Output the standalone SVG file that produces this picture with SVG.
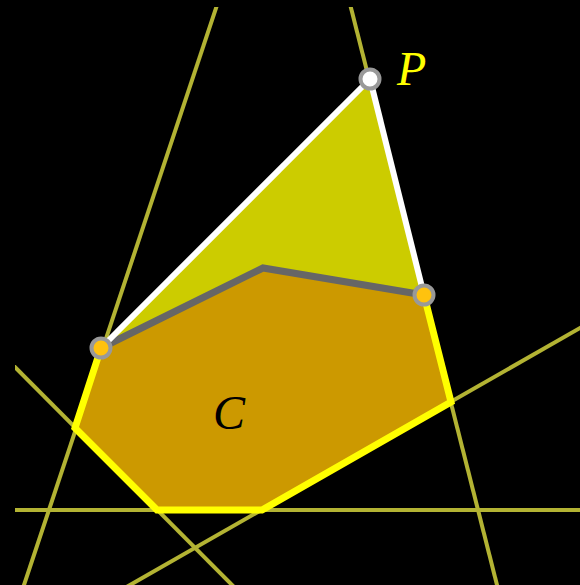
<svg xmlns="http://www.w3.org/2000/svg" width="580" height="585" viewBox="0 0 580 585">
<defs>
<clipPath id="clip"><rect x="15" y="7" width="565" height="578"/></clipPath>
<style>
.ln{stroke:#b3b333;stroke-width:4;fill:none}
.pt{stroke:#999999;stroke-width:4}
.lbl{font-family:"Liberation Serif","DejaVu Serif",serif;font-style:italic;font-size:48px}
</style>
</defs>
<rect x="0" y="0" width="580" height="585" fill="#000000"/>
<g id="connectors" clip-path="url(#clip)">
<line class="ln" x1="218.7" y1="0" x2="19" y2="600"/>
<line class="ln" x1="349" y1="0" x2="500.8" y2="600"/>
<line class="ln" x1="5" y1="357" x2="250" y2="603"/>
<line class="ln" x1="0" y1="510" x2="580" y2="510"/>
<line class="ln" x1="600" y1="316.6" x2="110" y2="596.4"/>
</g>
<g id="triangle">
<polygon points="370,79 101,348 424,295" fill="#cccc00"/>
</g>
<g id="C">
<polygon points="101,348 263,268 424,295 451,402 262,510 157,510 75,428" fill="#cc9900"/>
<polyline points="424,295 451,402 262,510 157,510 75,428 101,348" fill="none" stroke="#ffff00" stroke-width="7" stroke-linejoin="miter"/>
<polyline points="101,348 263,268 424,295" fill="none" stroke="#666666" stroke-width="7" stroke-linejoin="miter"/>
<text class="lbl" x="213" y="429" fill="#000000">C</text>
</g>
<g id="edges">
<line x1="370" y1="79" x2="101" y2="348" stroke="#ffffff" stroke-width="6"/>
<line x1="370" y1="79" x2="424" y2="295" stroke="#ffffff" stroke-width="6"/>
</g>
<g id="P">
<circle class="pt" cx="370" cy="79" r="9.5" fill="#ffffff"/>
<text class="lbl" x="397" y="85" fill="#ffff00">P</text>
</g>
<g id="A">
<circle class="pt" cx="101" cy="348" r="9.5" fill="#ffc20e"/>
</g>
<g id="B">
<circle class="pt" cx="424" cy="295" r="9.5" fill="#ffc20e"/>
</g>
</svg>
